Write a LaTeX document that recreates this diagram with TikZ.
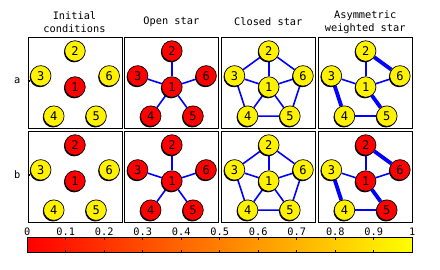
\documentclass[tikz,border=0pt]{standalone}
\usepackage{fontspec}
\setmonofont{DejaVu Sans Mono}
\usetikzlibrary{shadows,backgrounds}
\newcommand\mkpanel[4]{%
  \node[panel] (#1) at (#2,#3) {};
  \foreach \c [count=\i] in {#4}{%
    \ifnum\i=1
      \node[ball,fill=\c] (#1-\i) at (#2+47.5,#3+49.5) {\i};
    \else
      \pgfmathsetmacro\ang{90+72*(\i-2)}
      \node[ball,fill=\c] (#1-\i) at ({#2+47.5+36*cos(\ang)},{#3+49.5-36*sin(\ang)}) {\i};
    \fi}}
\begin{document}
\begin{tikzpicture}[x=1pt,y=-1pt,
  lbl/.style={font=\ttfamily\fontsize{10.3}{13}\selectfont,inner sep=0pt,align=center},
  panel/.style={draw=black,line width=0.8pt,minimum width=94pt,minimum height=90.5pt,inner sep=0pt,anchor=north west},
  ball/.style={circle,draw=black,line width=0.7pt,minimum size=20.5pt,inner sep=0pt,
    font=\ttfamily\fontsize{12}{12}\selectfont,
    drop shadow={shadow xshift=-0.8pt,shadow yshift=-1.1pt,opacity=1,fill=black}},
  link/.style={draw=blue,line width=1.6pt},
  heavy/.style={draw=blue,line width=3.8pt},
  tick/.style={line width=0.8pt},
]
\useasboundingbox (0,0) rectangle (440,270);
% titles
\node[lbl] (t1) at (74.5,22.5) {Initial\\conditions};
\node[lbl] (t2) at (171.4,22) {Open star};
\node[lbl] (t3) at (268.3,22) {Closed star};
\node[lbl] (t4) at (365.2,22.5) {Asymmetric\\weighted star};
% row labels
\node[lbl] (ra) at (17.3,81) {a};
\node[lbl] (rb) at (17.3,175) {b};
% panels
\mkpanel{a1}{27.5}{37.5}{red,yellow,yellow,yellow,yellow,yellow}
\mkpanel{a2}{124.4}{37.5}{red,red,red,red,red,red}
\mkpanel{a3}{221.3}{37.5}{yellow,yellow,yellow,yellow,yellow,yellow}
\mkpanel{a4}{318.2}{37.5}{yellow,yellow,yellow,yellow,yellow,yellow}
\mkpanel{b1}{27.5}{131.5}{red,red,yellow,yellow,yellow,yellow}
\mkpanel{b2}{124.4}{131.5}{red,red,red,red,red,red}
\mkpanel{b3}{221.3}{131.5}{yellow,yellow,yellow,yellow,yellow,yellow}
\mkpanel{b4}{318.2}{131.5}{red,red,yellow,yellow,red,red}
% left ticks
\draw[line width=1.4pt] (a1.west |- ra) -- ++(2,0);
\draw[line width=1.4pt] (b1.west |- rb) -- ++(2,0);
% edges
\begin{pgfonlayer}{background}
\foreach \p in {a2,b2,a3,b3}{
  \foreach \k in {2,...,6} \draw[link] (\p-1) -- (\p-\k);
}
\foreach \p in {a3,b3}{
  \draw[link] (\p-2) -- (\p-3) -- (\p-4) -- (\p-5) -- (\p-6) -- (\p-2);
}
\foreach \p in {a4,b4}{
  \draw[link] (\p-1) -- (\p-2);
  \draw[link] (\p-1) -- (\p-3);
  \draw[link] (\p-1) -- (\p-6);
  \draw[link] (\p-4) -- (\p-5);
  \draw[heavy] (\p-1) -- (\p-5);
  \draw[heavy] (\p-2) -- (\p-6);
  \draw[heavy] (\p-3) -- (\p-4);
}
\end{pgfonlayer}
% colour bar
\node[draw=black,line width=0.8pt,minimum width=385pt,minimum height=15pt,inner sep=0pt,
  anchor=north west,left color=red,right color=yellow] (cbar) at (27.3,237.3) {};
\foreach \t in {1,...,9}{
  \draw[tick] (27.3+38.5*\t,237.3) -- ++(0,2.5);
  \draw[tick] (27.3+38.5*\t,252.3) -- ++(0,-2.5);
}
\foreach \t/\s in {0/0,1/0.1,2/0.2,3/0.3,4/0.4,5/0.5,6/0.6,7/0.7,8/0.8,9/0.9,10/1}
  \node[lbl] (c\t) at (27.3+38.5*\t,232) {\s};
\end{tikzpicture}
\end{document}
